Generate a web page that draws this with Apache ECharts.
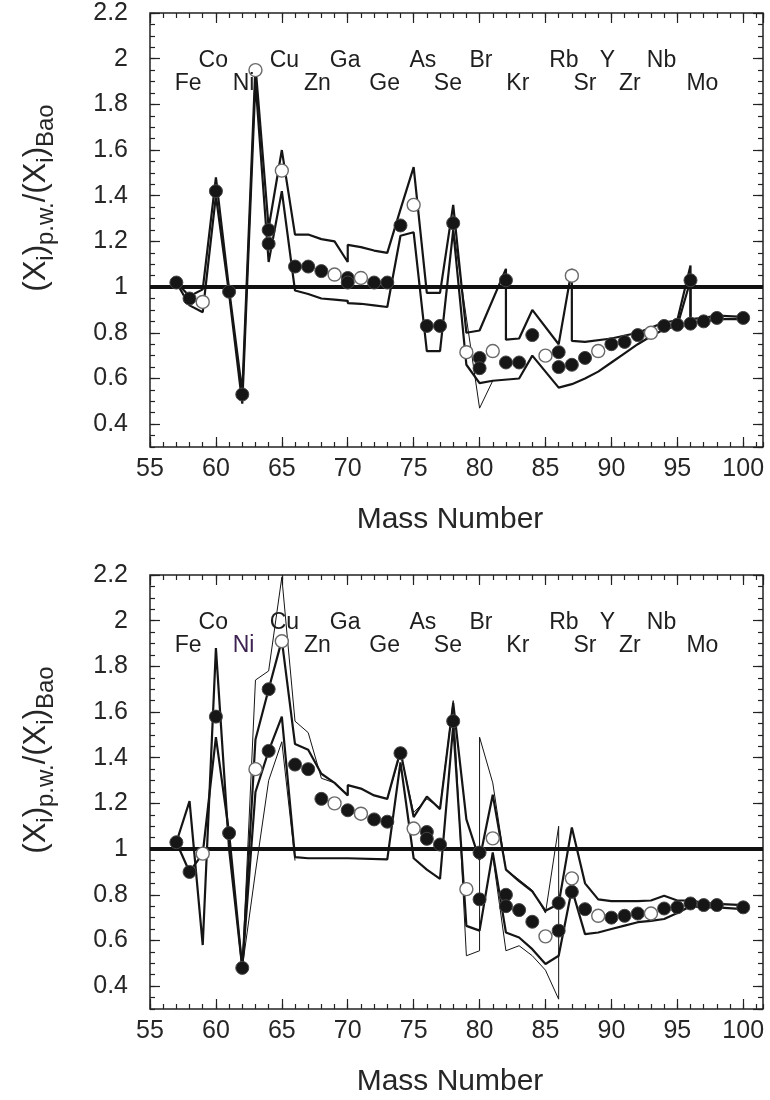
<!DOCTYPE html>
<html><head><meta charset="utf-8">
<script src="https://cdn.jsdelivr.net/npm/echarts@6/dist/echarts.min.js"></script>
<style>html,body{margin:0;padding:0;background:#fff}#c{width:770px;height:1100px}</style>
</head><body><div id="c"></div>
<script>
// ---------- element labels ----------
const elementNames = ['Fe','Co','Ni','Cu','Zn','Ga','Ge','As','Se','Br','Kr','Rb','Sr','Y','Zr','Nb','Mo'];
const elementX     = [57.9,59.8,62.1,65.2,67.7,69.8,72.8,75.7,77.6,80.1,82.9,86.4,88.0,89.7,91.4,93.8,96.9];
const elementY     = [1.89,1.99,1.89,1.99,1.89,1.99,1.89,1.99,1.89,1.99,1.89,1.99,1.89,1.99,1.89,1.99,1.89];

// ---------- top panel ----------
const topFilled = [[57,1.02],[58,0.95],[60,1.42],[61,0.98],[62,0.53],[64,1.25],[64,1.19],[66,1.09],[67,1.09],[68,1.07],[70,1.04],[70,1.02],[72,1.02],[73,1.02],[74,1.27],[76,0.83],[77,0.83],[78,1.28],[80,0.69],[80,0.645],[82,1.03],[82,0.67],[83,0.67],[84,0.79],[86,0.715],[86,0.65],[87,0.66],[88,0.69],[90,0.75],[91,0.76],[92,0.79],[94,0.83],[95,0.835],[96,1.03],[96,0.84],[97,0.85],[98,0.865],[100,0.865]];
const topOpen = [[59,0.935],[63,1.95],[65,1.51],[69,1.055],[71,1.04],[75,1.36],[79,0.715],[81,0.72],[85,0.70],[87,1.05],[89,0.72],[93,0.80]];
const topUpper = [[57,1.02],[58,0.96],[59,0.99],[60,1.48],[61,0.99],[62,0.54],[63,1.97],[64,1.26],[65,1.60],[66,1.23],[67,1.23],[68,1.21],[69,1.20],[70,1.11],[70,1.185],[71,1.175],[72,1.16],[73,1.15],[74,1.34],[75,1.525],[76,0.975],[77,0.975],[78,1.36],[79,0.80],[80,0.81],[82,1.08],[82,0.77],[83,0.775],[84,0.90],[86,0.75],[87,1.08],[87,0.765],[88,0.76],[90,0.775],[92,0.80],[94,0.845],[95,0.855],[96,1.095],[96,0.86],[97,0.865],[98,0.875],[100,0.87]];
const topLower = [[57,1.02],[58,0.92],[59,0.89],[60,1.40],[61,0.97],[62,0.49],[63,1.90],[64,1.11],[65,1.42],[66,0.985],[67,0.97],[68,0.95],[69,0.945],[70,0.94],[70,0.93],[71,0.927],[72,0.92],[73,0.913],[74,1.225],[75,1.24],[76,0.72],[77,0.72],[78,1.25],[79,0.66],[80,0.58],[81,0.59],[83,0.60],[84,0.70],[86,0.56],[87,0.575],[88,0.60],[89,0.63],[90,0.67],[91,0.71],[92,0.75],[93,0.785],[94,0.815],[95,0.83],[96,1.03],[96,0.845],[97,0.85],[98,0.86],[100,0.86]];
const topThin = [[78,1.26],[80,0.47],[81,0.59]];

// ---------- bottom panel ----------
const botFilled = [[57,1.03],[58,0.90],[60,1.58],[61,1.07],[62,0.48],[64,1.70],[64,1.43],[66,1.37],[67,1.35],[68,1.22],[70,1.17],[72,1.13],[73,1.12],[74,1.42],[76,1.075],[76,1.045],[77,1.02],[78,1.56],[80,0.985],[80,0.78],[82,0.80],[82,0.75],[83,0.733],[84,0.682],[86,0.764],[86,0.643],[87,0.813],[88,0.737],[90,0.70],[91,0.708],[92,0.718],[94,0.74],[95,0.745],[96,0.762],[97,0.755],[98,0.755],[100,0.745]];
const botOpen = [[59,0.98],[63,1.35],[65,1.91],[69,1.20],[71,1.155],[75,1.09],[79,0.825],[81,1.047],[85,0.618],[87,0.872],[89,0.708],[93,0.718]];
const botUpper = [[57,1.03],[58,1.21],[59,0.58],[60,1.88],[61,1.0],[62,0.48],[63,1.48],[64,1.70],[65,1.915],[66,1.46],[67,1.435],[68,1.33],[69,1.29],[70,1.235],[70,1.28],[71,1.265],[72,1.235],[73,1.22],[74,1.43],[75,1.14],[76,1.23],[77,1.175],[78,1.64],[79,1.13],[80,0.953],[81,1.238],[82,0.91],[83,0.86],[84,0.815],[85,0.73],[86,0.76],[87,1.095],[88,0.85],[89,0.78],[90,0.772],[92,0.772],[93,0.775],[94,0.796],[95,0.775],[96,0.775],[97,0.765],[98,0.76],[100,0.755]];
const botLower = [[57,1.03],[58,0.90],[59,0.98],[60,1.49],[61,1.07],[62,0.48],[63,1.25],[64,1.43],[65,1.58],[66,0.965],[67,0.96],[68,0.96],[69,0.96],[70,0.96],[73,0.955],[74,1.38],[75,0.96],[76,0.91],[77,0.87],[78,1.54],[79,0.664],[80,0.643],[81,0.985],[82,0.635],[83,0.613],[84,0.562],[85,0.497],[86,0.533],[87,0.825],[88,0.628],[89,0.635],[90,0.65],[91,0.665],[92,0.68],[93,0.686],[94,0.694],[95,0.72],[96,0.75],[97,0.745],[98,0.745],[100,0.737]];
const botThinUpper = [[62,0.48],[63,1.74],[64,1.78],[65,2.19],[66,1.56],[67,1.51],[68,1.31],[69,1.29],[70,1.24],[70,1.28],[71,1.265],[72,1.235],[73,1.22],[74,1.42],[75,1.16],[76,1.22],[77,1.18],[78,1.65],[79,0.533],[80,0.555],[80,1.49],[81,1.29],[82,0.91],[83,0.866],[84,0.82],[85,0.72],[86,1.10],[86,0.343]];
const botThinLower = [[62,0.48],[63,0.90],[64,1.30],[65,1.47],[66,0.95],[70,'-'],[81,0.97],[82,0.555],[83,0.577],[84,0.533],[85,0.47],[86,0.343]];

const FONT = '"Liberation Sans", Arial, Helvetica, sans-serif';
const TXT = '#262626';
const X_MIN = 55, X_MAX = 101.5, Y_MIN = 0.3, Y_MAX = 2.2;

const chart = echarts.init(document.getElementById('c'), null, {renderer: 'canvas'});

const grids = [], xAxes = [], yAxes = [], series = [];

function addPanel(g, top, d) {
  grids.push({left: 150, top: top, width: 613, height: 434, show: true,
    borderColor: '#222', borderWidth: 1.5, backgroundColor: 'rgba(0,0,0,0)'});
  const tickStyle = {color: '#222', width: 1.2};
  const xBase = {gridIndex: g, type: 'value', min: X_MIN, max: X_MAX,
    axisLine: {show: false}, splitLine: {show: false}};
  xAxes.push(Object.assign({}, xBase, {position: 'bottom', interval: 5,
    axisTick: {inside: true, length: 10, lineStyle: tickStyle},
    axisLabel: {show: true, fontSize: 25, color: TXT, fontFamily: FONT, margin: 10, showMaxLabel: false}}));
  xAxes.push(Object.assign({}, xBase, {position: 'bottom', interval: 1,
    axisTick: {inside: true, length: 5, lineStyle: tickStyle}, axisLabel: {show: false}}));
  xAxes.push(Object.assign({}, xBase, {position: 'top', interval: 5,
    axisTick: {inside: true, length: 10, lineStyle: tickStyle}, axisLabel: {show: false}}));
  xAxes.push(Object.assign({}, xBase, {position: 'top', interval: 1,
    axisTick: {inside: true, length: 5, lineStyle: tickStyle}, axisLabel: {show: false}}));

  const yBase = {gridIndex: g, type: 'value', min: Y_MIN, max: Y_MAX,
    axisLine: {show: false}, splitLine: {show: false}};
  yAxes.push(Object.assign({}, yBase, {position: 'left', splitNumber: 10,
    axisTick: {inside: true, length: 10, lineStyle: tickStyle},
    axisLabel: {show: true, fontSize: 25, color: TXT, fontFamily: FONT, margin: 22, showMinLabel: false}}));
  yAxes.push(Object.assign({}, yBase, {position: 'left', interval: 0.05,
    axisTick: {inside: true, length: 5, lineStyle: tickStyle}, axisLabel: {show: false}}));
  yAxes.push(Object.assign({}, yBase, {position: 'right', splitNumber: 10,
    axisTick: {inside: true, length: 10, lineStyle: tickStyle}, axisLabel: {show: false}}));
  yAxes.push(Object.assign({}, yBase, {position: 'right', interval: 0.05,
    axisTick: {inside: true, length: 5, lineStyle: tickStyle}, axisLabel: {show: false}}));

  const xi = g * 4, yi = g * 4;
  const lineS = (data, w, extra) => Object.assign({type: 'line', xAxisIndex: xi, yAxisIndex: yi,
    data: data, symbol: 'none', silent: true, z: 2, connectNulls: false,
    lineStyle: {color: '#151515', width: w}}, extra || {});

  d.thin.forEach(t => series.push(lineS(t, 1)));
  series.push(lineS(d.lower, 2.2));
  series.push(lineS(d.upper, 2.2, {
    markLine: {silent: true, symbol: ['none', 'none'], label: {show: false}, z: 3,
      lineStyle: {color: '#111', width: 4, type: 'solid'}, data: [{yAxis: 1}]}
  }));
  series.push({type: 'scatter', xAxisIndex: xi, yAxisIndex: yi, data: d.filled, symbolSize: 13, z: 5,
    itemStyle: {color: '#161616', borderColor: '#444', borderWidth: 1, opacity: 1}});
  series.push({type: 'scatter', xAxisIndex: xi, yAxisIndex: yi, data: d.open, symbolSize: 13, z: 5,
    itemStyle: {color: '#fff', borderColor: '#6a6a6a', borderWidth: 1.4, opacity: 1}});
  series.push({type: 'scatter', xAxisIndex: xi, yAxisIndex: yi, symbolSize: 1, z: 6,
    itemStyle: {color: '#fff', opacity: 1},
    label: {show: true, position: 'inside', formatter: p => p.name, fontSize: 23, color: '#1e1e1e',
      fontFamily: FONT, opacity: 1, textBorderWidth: 0},
    data: elementNames.map((n, i) => {
      const item = {name: n, value: [elementX[i], elementY[i]]};
      if (g === 1 && n === 'Ni') item.label = {color: '#3e2352'};
      return item;
    })});
}

addPanel(0, 13, {upper: topUpper, lower: topLower, thin: [topThin], filled: topFilled, open: topOpen});
addPanel(1, 575, {upper: botUpper, lower: botLower, thin: [botThinUpper, botThinLower], filled: botFilled, open: botOpen});

const yTitleRich = {
  s: {fontSize: 24, fontFamily: FONT, fill: TXT, lineHeight: 24, padding: [14, 0, 0, 0], verticalAlign: 'top'}
};
function yTitle(cy) {
  return {type: 'text', x: 36, y: cy, rotation: Math.PI / 2, z: 10,
    style: {text: '(X{s|i}){s|p.w.}/(X{s|i}){s|Bao}', rich: yTitleRich, fontSize: 31, lineHeight: 31,
      fontFamily: FONT, fill: TXT, align: 'center', verticalAlign: 'middle'}};
}
function xTitle(cy) {
  return {type: 'text', x: 450, y: cy, z: 10,
    style: {text: 'Mass Number', fontSize: 30, fontFamily: FONT, fill: TXT, align: 'center', verticalAlign: 'middle'}};
}

chart.setOption({
  animation: false,
  backgroundColor: '#fff',
  grid: grids, xAxis: xAxes, yAxis: yAxes, series: series,
  graphic: [yTitle(198), xTitle(520), yTitle(760), xTitle(1082)]
});
</script></body></html>
